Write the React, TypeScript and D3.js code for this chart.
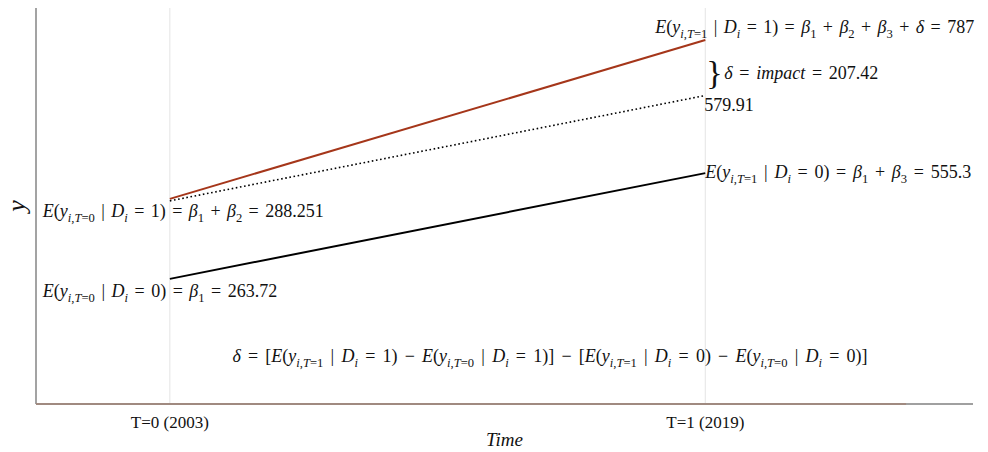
import React from 'react'
import * as d3 from 'd3'

// periods on the x axis
const periodLabels = ['T=0 (2003)', 'T=1 (2019)']
const periodYears = [2003, 2019]

// drawn heights of the three lines (schematic units)
const treatedDrawn = [51.8, 91.9]
const controlDrawn = [31.6, 58.3]
const counterfactualDrawn = [51.3, 77.9]

// values written in the annotations, as they show in the picture
const treatedValues = [288.251, 787]
const controlValues = [263.72, 555.3]
const counterfactualEnd = 579.91
const impact = 207.42

const W = 988
const H = 452
const FONT = '"Liberation Serif", "Times New Roman", serif'

type Part = { text: string; sub: boolean }

// tiny TeX-ish renderer: letters italic, x_{..} becomes a subscript
function parseMath(src: string): Part[] {
  const parts: Part[] = []
  let i = 0
  while (i < src.length) {
    if (src[i] === '_') {
      let s
      if (src[i + 1] === '{') {
        const j = src.indexOf('}', i + 2)
        s = src.slice(i + 2, j)
        i = j + 1
      } else {
        s = src[i + 1]
        i += 2
      }
      parts.push({ text: s, sub: true })
    } else {
      let j = i
      while (j < src.length && src[j] !== '_') j++
      parts.push({ text: src.slice(i, j), sub: false })
      i = j
    }
  }
  return parts
}

const isLetter = (c: string) => /[A-Za-z\u03b1-\u03c9]/.test(c)

function runs(s: string) {
  const out: { t: string; it: boolean }[] = []
  for (const c of s) {
    const it = isLetter(c)
    const last = out[out.length - 1]
    if (last && last.it === it) last.t += c
    else out.push({ t: c, it })
  }
  return out
}

function MathText({ x, y, src, size, anchor = 'start', ws = 2.2 }: { x: number; y: number; src: string; size: number; anchor?: string; ws?: number }) {
  const parts = parseMath(src)
  const shift = size * 0.28
  const spans: any[] = []
  let inSub = false
  let k = 0
  parts.forEach(p => {
    runs(p.text).forEach((r, ri) => {
      let dy = 0
      if (p.sub && !inSub && ri === 0) dy = shift
      if (!p.sub && inSub && ri === 0) dy = -shift
      spans.push(
        <tspan key={k++} dy={dy || undefined} fontStyle={r.it ? 'italic' : 'normal'} fontSize={p.sub ? size * 0.7 : size}>
          {r.t}
        </tspan>
      )
    })
    inSub = p.sub
  })
  return (
    <text x={x} y={y} fontFamily={FONT} fontSize={size} fill="#111" textAnchor={anchor}
      style={{ whiteSpace: 'pre', wordSpacing: ws + 'px' }}>
      {spans}
    </text>
  )
}

export default function App() {
  const x = d3.scaleLinear().domain([1999, 2027]).range([36, 973])
  const y = d3.scaleLinear().domain([0, 100]).range([404, 8])

  const line = d3.line<number>()
    .x((d, i) => x(periodYears[i]))
    .y(d => y(d))

  const x0 = x(periodYears[0])
  const x1 = x(periodYears[1])
  const size = 18

  return (
    <svg width={W} height={H} style={{ position: 'absolute', left: 0, top: 0, background: '#fff' }}>
      {periodYears.map(yr => (
        <line key={yr} x1={x(yr)} x2={x(yr)} y1={y(100)} y2={y(0)} stroke="#e4e4e4" strokeWidth={1} />
      ))}

      {/* axes */}
      <line x1={x(1999)} x2={x(1999)} y1={y(100)} y2={y(0)} stroke="#666" strokeWidth={1.2} />
      <line x1={x(1999)} x2={x(2027)} y1={y(0)} y2={y(0)} stroke="#a0a0a0" strokeWidth={2} />
      <line x1={x(1999)} x2={x(2025)} y1={y(0)} y2={y(0)} stroke="#a0522d" strokeWidth={1} opacity={0.55} />

      {periodLabels.map((l, i) => (
        <text key={l} x={x(periodYears[i])} y={428} textAnchor="middle" fontFamily={FONT} fontSize={17} fill="#111">{l}</text>
      ))}
      <text x={(x(1999) + x(2027)) / 2} y={446} textAnchor="middle" fontFamily={FONT} fontSize={19} fontStyle="italic" fill="#111">Time</text>
      <text transform={`translate(25,${y(50)}) rotate(-90)`} textAnchor="middle" fontFamily={FONT} fontSize={26} fontStyle="italic" fill="#111">y</text>

      {/* lines */}
      <path d={line(controlDrawn) || ''} fill="none" stroke="#000" strokeWidth={2} />
      <path d={line(counterfactualDrawn) || ''} fill="none" stroke="#000" strokeWidth={1.6} strokeDasharray="1.6 2.6" />
      <path d={line(treatedDrawn) || ''} fill="none" stroke="#a5361a" strokeWidth={2} />

      <MathText x={x1 - 50} y={y(treatedDrawn[1]) - 7} size={size} ws={1.9}
        src={`E(y_{i,T=1} | D_i = 1) = β_1 + β_2 + β_3 + δ = ${treatedValues[1]}`} />
      <text x={x1 + 1} y={84} fontFamily={FONT} fontSize={34} fill="#111">{'}'}</text>
      <MathText x={x1 + 19} y={79} size={size} src={`δ = impact = ${impact}`} />
      <text x={x1 - 1} y={y(counterfactualDrawn[1]) + 15} fontFamily={FONT} fontSize={size} fill="#111">{counterfactualEnd}</text>
      <MathText x={x1} y={y(controlDrawn[1]) + 5} size={size} ws={2.2}
        src={`E(y_{i,T=1} | D_i = 0) = β_1 + β_3 = ${controlValues[1]}`} />
      <MathText x={x0 - 127} y={y(treatedDrawn[0]) + 18} size={size} ws={1.9}
        src={`E(y_{i,T=0} | D_i = 1) = β_1 + β_2 = ${treatedValues[0]}`} />
      <MathText x={x0 - 127} y={y(controlDrawn[0]) + 18} size={size} ws={2.0}
        src={`E(y_{i,T=0} | D_i = 0) = β_1 = ${controlValues[0]}`} />
      <MathText x={550} y={362} size={size} anchor="middle" ws={2.7}
        src={'δ = [E(y_{i,T=1} | D_i = 1) \u2212 E(y_{i,T=0} | D_i = 1)] \u2212 [E(y_{i,T=1} | D_i = 0) \u2212 E(y_{i,T=0} | D_i = 0)]'} />
    </svg>
  )
}
